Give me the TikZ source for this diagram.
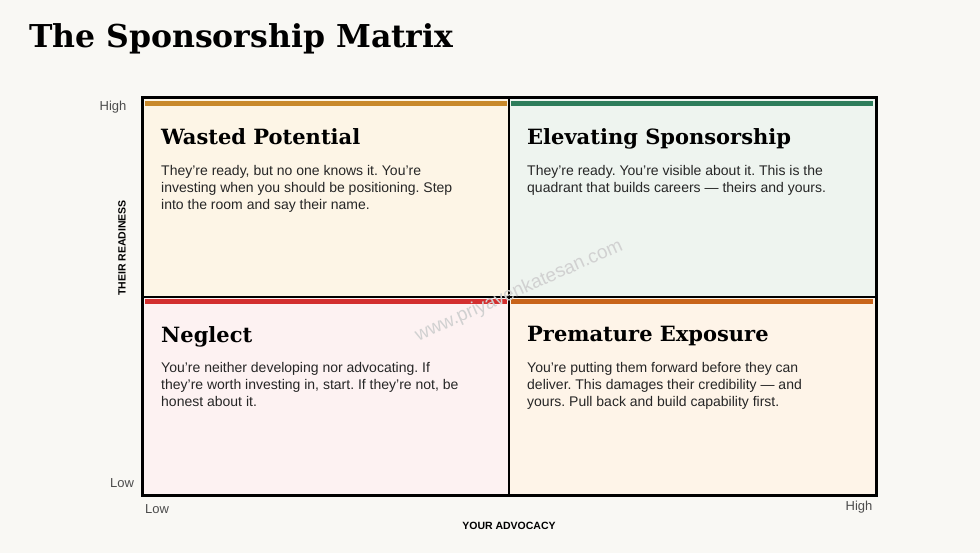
\documentclass[tikz,border=0pt]{standalone}
\usepackage{fontspec}
\setmainfont{DejaVu Serif}
\setsansfont{Liberation Sans}
\frenchspacing
\begin{document}
\begin{tikzpicture}[x=1pt,y=-1pt,
  ttl/.style={anchor=north west,inner sep=0pt,font=\fontsize{21}{26}\selectfont\bfseries},
  body/.style={anchor=north west,inner sep=0pt,align=left,font=\sffamily\fontsize{14}{17}\selectfont,text=black!85},
  axl/.style={inner sep=0pt,font=\sffamily\fontsize{13}{15}\selectfont,text=black!70},
  axt/.style={inner sep=0pt,font=\sffamily\bfseries\fontsize{10.5}{12}\selectfont}]
\fill[color={rgb,255:red,249;green,248;blue,244}] (0,0) rectangle (980,553);
\useasboundingbox (0,0) rectangle (980,553);
\node[anchor=base west,inner sep=0pt,font=\fontsize{31.5}{36}\selectfont\bfseries] (title) at (29,48) {The Sponsorship Matrix};
\fill[color={rgb,255:red,253;green,245;blue,230}] (142,98) rectangle (509,297);
\fill[color={rgb,255:red,238;green,244;blue,239}] (509,98) rectangle (876,297);
\fill[color={rgb,255:red,253;green,242;blue,242}] (142,297) rectangle (509,495);
\fill[color={rgb,255:red,254;green,244;blue,232}] (509,297) rectangle (876,495);
\fill[color={rgb,255:red,200;green,137;blue,43}] (145,101) rectangle (507,106);
\fill[color={rgb,255:red,46;green,125;blue,91}] (511,101) rectangle (873,106);
\fill[color={rgb,255:red,211;green,47;blue,47}] (145,299) rectangle (507,304);
\fill[color={rgb,255:red,200;green,100;blue,26}] (511,299) rectangle (873,304);
\draw[line width=3pt] (142,98) rectangle (876,495);
\draw[line width=2pt] (509,98) -- (509,495);
\draw[line width=2pt] (142,297) -- (876,297);
\node[ttl] (t1) at (161,128) {Wasted Potential};
\node[body] (b1) at (161,165) {They're ready, but no one knows it. You're\\investing when you should be positioning. Step\\into the room and say their name.};
\node[ttl] (t2) at (527,128) {Elevating Sponsorship};
\node[body] (b2) at (527,165) {They're ready. You're visible about it. This is the\\quadrant that builds careers --- theirs and yours.};
\node[ttl] (t3) at (161,326) {Neglect};
\node[body] (b3) at (161,362) {You're neither developing nor advocating. If\\they're worth investing in, start. If they're not, be\\honest about it.};
\node[ttl] (t4) at (527,326) {Premature Exposure};
\node[body] (b4) at (527,362) {You're putting them forward before they can\\deliver. This damages their credibility --- and\\yours. Pull back and build capability first.};
\node[axl] (hy) at (113,107) {High};
\node[axl] (ly) at (122,483) {Low};
\node[axl] (lx) at (157,509) {Low};
\node[axl] (hx) at (859,507) {High};
\node[axt,rotate=90] (ay) at (122,248) {THEIR READINESS};
\node[axt] (ax) at (509,526) {YOUR ADVOCACY};
\node[font=\sffamily\fontsize{19}{22}\selectfont,text=black!18,rotate=24] (wm) at (519,291) {www.priyavenkatesan.com};
\end{tikzpicture}
\end{document}
